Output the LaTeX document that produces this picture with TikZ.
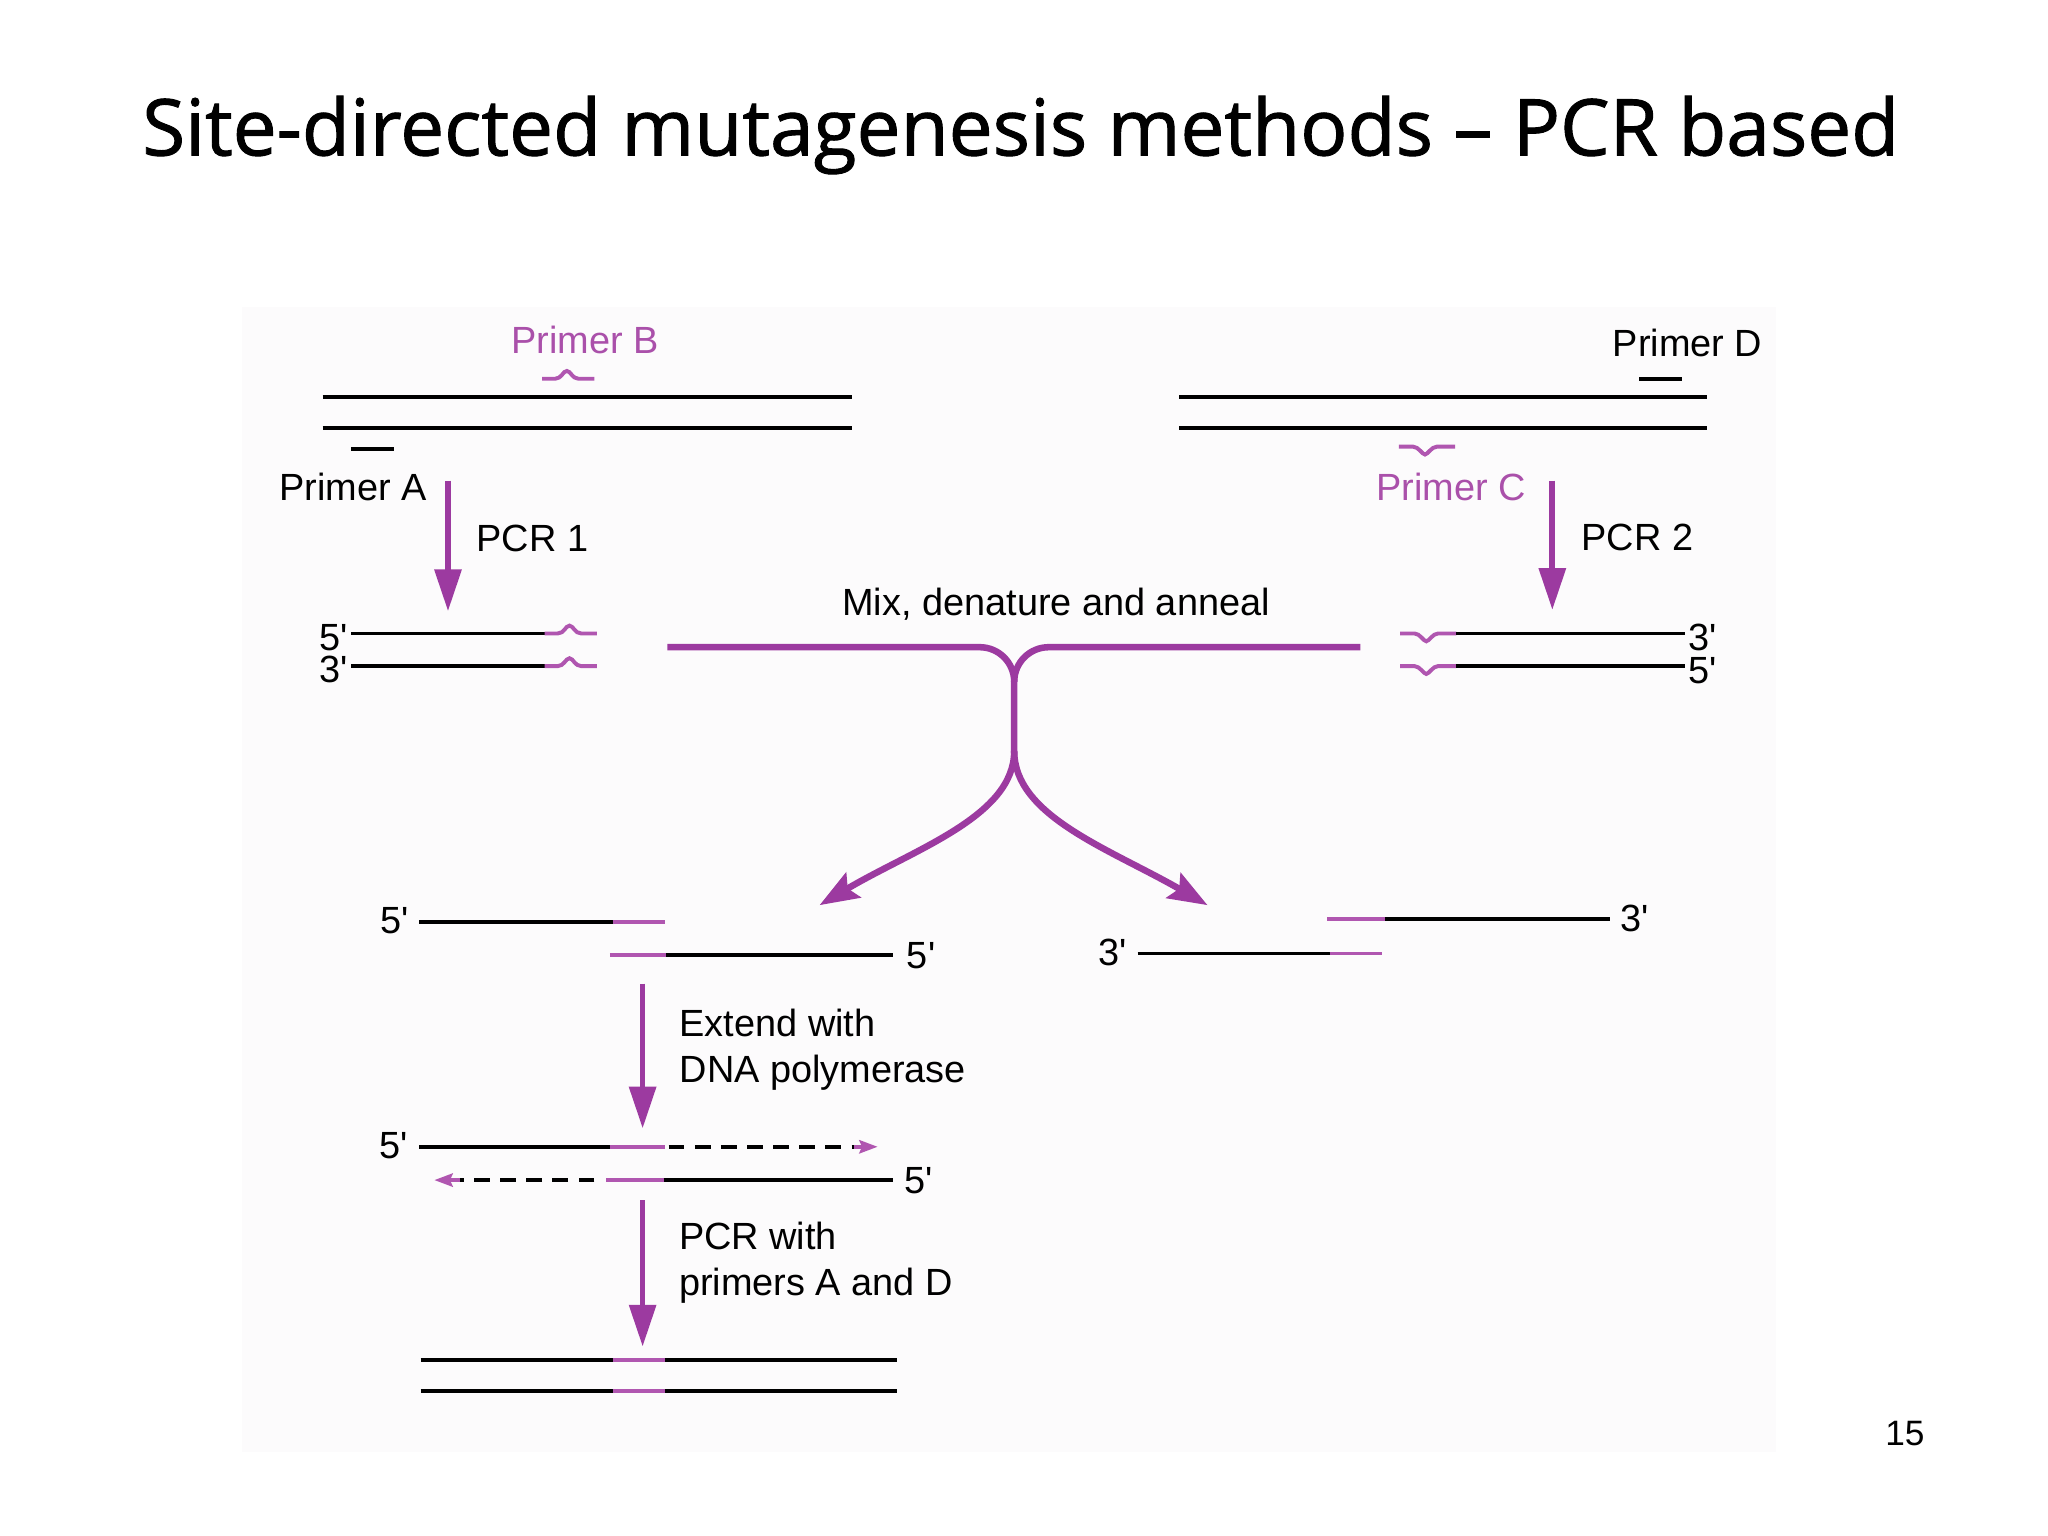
\documentclass[tikz,border=0pt]{standalone}
\usepackage{fontspec}
\setmainfont{Liberation Sans}
\newfontfamily\titlefont[FakeBold=1.2]{Open Sans}
\usetikzlibrary{arrows.meta}
\definecolor{mpurple}{RGB}{156,58,160}
\definecolor{lpurple}{RGB}{176,86,176}
\definecolor{tpurple}{RGB}{170,80,170}
\definecolor{bgtint}{RGB}{252,251,252}
\begin{document}
\begin{tikzpicture}[x=0.5pt,y=-0.5pt,
  strand/.style={line width=1.5pt,black},
  mut/.style={line width=1.5pt,lpurple},
  dashstrand/.style={line width=1.6pt,black,dash pattern=on 6pt off 4pt},
  flow/.style={line width=2.2pt,mpurple,-{Triangle[length=16pt,width=10pt]}},
  mixline/.style={line width=2.5pt,mpurple},
  mixarrow/.style={line width=2.5pt,mpurple,-{Stealth[length=15pt,width=11pt,inset=2.5pt]}},
  tinyarrow/.style={line width=1.5pt,lpurple,-{Stealth[length=7pt,width=5pt,inset=1pt]}},
  lbl/.style={inner sep=0pt,font=\fontsize{14.5pt}{17pt}\selectfont},
  num/.style={lbl,text height=10.2pt,text depth=0pt},
  plbl/.style={lbl,text=tpurple},
  bumpup/.pic={\draw[mut] (0,0) -- (10,0) .. controls (15,0) and (16,-6) .. (19,-6) .. controls (22,-6) and (23,0) .. (28,0) -- (40,0);},
  dipdown/.pic={\draw[mut] (0,0) -- (11,0) .. controls (15,0) and (18,6) .. (20,6) .. controls (22,6) and (25,0) .. (29,0) -- (43,0);}
]
\useasboundingbox (0,0) rectangle (1568,1176);
\fill[white] (0,0) rectangle (1568,1176);
\fill[bgtint] (185,235) rectangle (1360,1112);

% title
\node[inner sep=0pt,anchor=base,font=\titlefont\fontsize{30pt}{36pt}\selectfont] (title) at (781.5,119) {Site-directed mutagenesis methods – PCR based};

% ---- top left template ----
\draw[strand] (247,304) -- (652,304);
\draw[strand] (247,328) -- (652,328);
\pic at (415,290) {bumpup};
\draw[strand] (269,344) -- (302,344);
\node[plbl,anchor=base west] (primerB) at (391,271) {Primer B};
\node[lbl,anchor=base west] (primerA) at (213.5,383) {Primer A};
\node[lbl,anchor=base west] (pcr1) at (364.5,422.5) {PCR 1};
\coordinate (p1s) at (343,368);
\coordinate (p1e) at (343,468);
\draw[flow] (p1s) -- (p1e);

% ---- top right template ----
\draw[strand] (903,304) -- (1307,304);
\draw[strand] (903,328) -- (1307,328);
\draw[strand] (1255,290) -- (1288,290);
\pic at (1071,342) {dipdown};
\node[lbl,anchor=base west] (primerD) at (1234.5,273) {Primer D};
\node[plbl,anchor=base west] (primerC) at (1053.5,383) {Primer C};
\node[lbl,anchor=base west] (pcr2) at (1210.5,421.5) {PCR 2};
\coordinate (p2s) at (1188.5,368);
\coordinate (p2e) at (1188.5,467);
\draw[flow] (p2s) -- (p2e);

% ---- PCR 1 product ----
\draw[strand] (269,485) -- (417,485);
\pic at (417,485) {bumpup};
\draw[strand] (269,510) -- (417,510);
\pic at (417,510) {bumpup};
\node[num,anchor=base east] (l5a) at (266.5,498) {5\textquotesingle};
\node[num,anchor=base east] (l3a) at (266.5,522.5) {3\textquotesingle};

% ---- PCR 2 product ----
\pic at (1072,485) {dipdown};
\draw[strand] (1115,485) -- (1290,485);
\pic at (1072,510) {dipdown};
\draw[strand] (1115,510) -- (1290,510);
\node[num,anchor=base west] (r3a) at (1292.5,498) {3\textquotesingle};
\node[num,anchor=base west] (r5a) at (1292.5,523) {5\textquotesingle};

% ---- mix, denature and anneal ----
\node[lbl,anchor=base west] (mixtxt) at (644.5,471) {Mix, denature and anneal};
\coordinate (mixL) at (511,495.5);
\coordinate (mixR) at (1041.5,495.5);
\coordinate (stemtop) at (776.5,522);
\coordinate (stem) at (776.5,575);
\coordinate (tipL) at (627.5,693);
\coordinate (tipR) at (924.5,693);
\draw[mixline] (mixL) -- (750,495.5) to[out=0,in=90] (stemtop) -- (stem);
\draw[mixline] (mixR) -- (803,495.5) to[out=180,in=90] (stemtop);
\draw[mixarrow] (stem) .. controls (776.5,625) and (700,650) .. (tipL);
\draw[mixarrow] (stem) .. controls (776.5,625) and (850,650) .. (tipR);

% ---- annealed intermediates ----
\draw[strand] (321,706) -- (469,706);
\draw[mut] (469,706) -- (509,706);
\draw[mut] (467,731) -- (510,731);
\draw[strand] (510,731) -- (684,731);
\node[num,anchor=base east] (m5a) at (313,715) {5\textquotesingle};
\node[num,anchor=base west] (m5b) at (694,741.5) {5\textquotesingle};

\draw[mut] (1016,703.5) -- (1060.5,703.5);
\draw[strand] (1060.5,703.5) -- (1233,703.5);
\draw[strand] (871,730) -- (1018,730);
\draw[mut] (1018,730) -- (1058,730);
\node[num,anchor=base west] (n3a) at (1240.5,713.5) {3\textquotesingle};
\node[num,anchor=base west] (n3b) at (840.5,739) {3\textquotesingle};

% ---- extend ----
\coordinate (exs) at (492,753);
\coordinate (exe) at (492,864);
\draw[flow] (exs) -- (exe);
\node[lbl,anchor=base west] (ext1) at (520,793.5) {Extend with};
\node[lbl,anchor=base west] (ext2) at (520,828.5) {DNA polymerase};

\draw[strand] (321,878) -- (467,878);
\draw[mut] (467,878) -- (509,878);
\draw[dashstrand] (512,878) -- (656,878);
\coordinate (da1) at (654,878);
\coordinate (da2) at (672,878);
\draw[tinyarrow] (da1) -- (da2);
\node[num,anchor=base east] (e5a) at (312.5,887) {5\textquotesingle};

\draw[dashstrand] (455,903.5) -- (351,903.5);
\coordinate (db1) at (352,903.5);
\coordinate (db2) at (332.5,903.5);
\draw[tinyarrow] (db1) -- (db2);
\draw[mut] (464,903.5) -- (508,903.5);
\draw[strand] (508,903.5) -- (684,903.5);
\node[num,anchor=base west] (e5b) at (692,913.5) {5\textquotesingle};

% ---- PCR with primers A and D ----
\coordinate (pds) at (492,919);
\coordinate (pde) at (492,1031);
\draw[flow] (pds) -- (pde);
\node[lbl,anchor=base west] (pw1) at (519.5,957) {PCR with};
\node[lbl,anchor=base west] (pw2) at (519.5,991.5) {primers A and D};

\draw[strand] (322,1041) -- (469,1041);
\draw[mut] (469,1041) -- (509,1041);
\draw[strand] (509,1041) -- (687,1041);
\draw[strand] (322,1065) -- (469,1065);
\draw[mut] (469,1065) -- (509,1065);
\draw[strand] (509,1065) -- (687,1065);

% page number
\node[inner sep=0pt,anchor=base west,font=\fontsize{13.5pt}{16pt}\selectfont] (pageno) at (1443,1106.5) {15};
\end{tikzpicture}
\end{document}
